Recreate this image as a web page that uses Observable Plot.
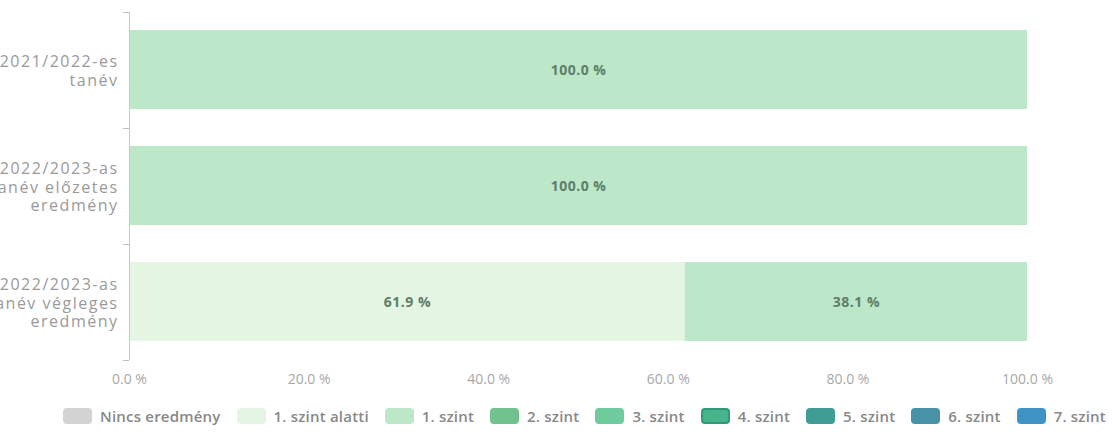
<!DOCTYPE html>
<html>
<head>
<meta charset="utf-8">
<script src="https://cdn.jsdelivr.net/npm/d3@7"></script>
<script src="https://cdn.jsdelivr.net/npm/@observablehq/plot@0.6"></script>
<style>
  html, body { margin: 0; padding: 0; background: #ffffff; overflow: hidden; }
  body { width: 1117px; height: 435px; font-family: "Open Sans", sans-serif; }
  #legend { display: flex; justify-content: center; align-items: center; gap: 16px; padding-top: 11px; padding-left: 52px;
            font-family: "Open Sans", sans-serif; font-size: 15px; font-weight: 600; color: #888888; letter-spacing: 0.2px; }
  .item { display: flex; align-items: center; gap: 8px; }
  .sw { width: 29px; height: 16px; border-radius: 4px; box-sizing: border-box; }
  .ylab text { letter-spacing: 1.5px; }
  .vlab text { letter-spacing: 0.5px; }
</style>
</head>
<body>
<div id="chart"></div>
<div id="legend"></div>
<script>
// ---- data ----
const categories = [
  "2021/2022-es\ntanév",
  "2022/2023-as\ntanév előzetes\neredmény",
  "2022/2023-as\ntanév végleges\neredmény"
];
const levels = ["Nincs eredmény", "1. szint alatti", "1. szint", "2. szint", "3. szint", "4. szint", "5. szint", "6. szint", "7. szint"];
const levelColors = ["#d3d3d3", "#e4f5e3", "#bce8c9", "#72c290", "#6fcb9c", "#47b48c", "#3e9d94", "#4892a7", "#3f94c6"];
const below1Values = [0, 0, 61.9];     // "1. szint alatti"
const level1Values = [100, 100, 38.1]; // "1. szint"
const xTicks = [0, 20, 40, 60, 80, 100];

// ---- table (stacked in level order) ----
const rows = [];
categories.forEach((c, i) => {
  let acc = 0;
  [["1. szint alatti", below1Values[i]], ["1. szint", level1Values[i]]].forEach(([lvl, v]) => {
    if (v > 0) {
      rows.push({cat: c, idx: i, level: lvl, value: v, x1: acc, x2: acc + v});
      acc += v;
    }
  });
});
const catIndex = categories.map((c, i) => ({cat: c, idx: i}));

const chart = Plot.plot({
  width: 1117,
  height: 395,
  marginLeft: 129,
  marginRight: 90,
  marginTop: 12,
  marginBottom: 35,
  style: {fontFamily: "'Open Sans', sans-serif", background: "transparent", overflow: "hidden"},
  x: {type: "linear", domain: [0, 100], label: null},
  y: {type: "linear", domain: [0, categories.length], range: [12, 360], label: null},
  color: {domain: levels, range: levelColors},
  marks: [
    Plot.rectX(rows, {
      x1: "x1", x2: "x2", y1: "idx", y2: d => d.idx + 1, fill: "level",
      insetTop: 18, insetBottom: 19
    }),
    Plot.text(rows, {
      x: d => (d.x1 + d.x2) / 2, y: d => d.idx + 0.5,
      text: d => d.value.toFixed(1) + " %",
      fill: "#5e7e69", fontSize: 14, fontWeight: 700, className: "vlab"
    }),
    Plot.ruleX([0], {y1: 0, y2: categories.length, stroke: "#c8c8c8"}),
    Plot.axisY({ticks: d3.range(categories.length + 1), tickFormat: () => "", tickSize: 6, stroke: "#c0c0c0", label: null}),
    Plot.text(catIndex, {
      y: d => d.idx + 0.5, text: "cat", frameAnchor: "left", textAnchor: "end",
      dx: -11, lineHeight: 1.18, fontSize: 16, fontWeight: 500, fill: "#9a9a9a", className: "ylab"
    }),
    Plot.axisX({ticks: xTicks, tickFormat: d => d.toFixed(1) + " %", tickSize: 0, tickPadding: 14,
                fontSize: 14, fill: "#a8a8a8", label: null})
  ]
});
document.getElementById("chart").append(chart);

// ---- legend ----
const legend = document.getElementById("legend");
levels.forEach((l, i) => {
  const it = document.createElement("div");
  it.className = "item";
  const sw = document.createElement("div");
  sw.className = "sw";
  sw.style.background = levelColors[i];
  if (l === "4. szint") sw.style.border = "2px solid #2f9a78";
  const tx = document.createElement("span");
  tx.textContent = l;
  it.append(sw, tx);
  legend.append(it);
});
</script>
</body>
</html>
